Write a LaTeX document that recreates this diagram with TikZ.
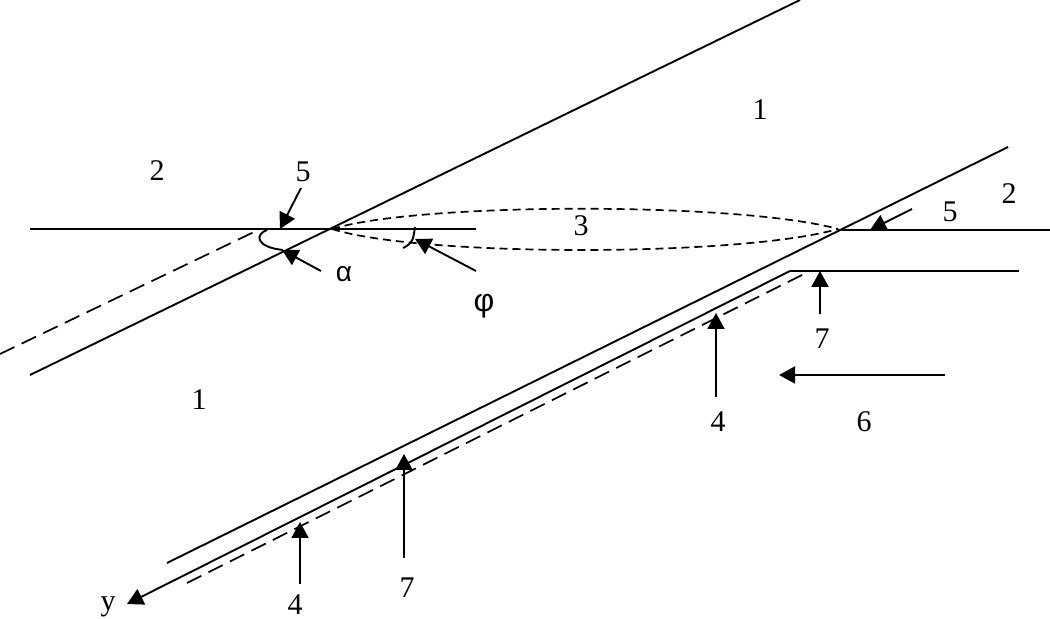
\documentclass[tikz,border=0pt]{standalone}
\usepackage{fontspec}
\setmainfont{Liberation Serif}
\newfontfamily\greekfont{Liberation Sans}
\usetikzlibrary{arrows.meta}
\tikzset{
>={Triangle[length=8pt,width=8.5pt]}, % solid arrow heads
wall/.style={line width=0.95pt}, % sets the properties for each solid line
hidden/.style={line width=0.85pt, dash pattern=on 8pt off 4pt}, % long dashes of the offset lines
lens/.style={line width=0.85pt, dash pattern=on 4pt off 2.5pt}, % short dashes of the cavity
tag/.style={font=\fontsize{15}{18}\selectfont, inner sep=0pt}, % sets the properties for each label
}

\begin{document}
\begin{tikzpicture}[x=0.5pt, y=-0.5pt]
  \useasboundingbox (0,0) rectangle (1050,619);

  % Points
  \coordinate (ua) at (30,375);
  \coordinate (ub) at (800,0);
  \coordinate (la) at (167,563);
  \coordinate (lb) at (1008,147);
  \coordinate (ha) at (30,229);
  \coordinate (hb) at (476,229);
  \coordinate (ra) at (838,230);
  \coordinate (rb) at (1050,230);
  \coordinate (ya) at (127,604);
  \coordinate (yb) at (790,271);
  \coordinate (yc) at (1019,271);
  \coordinate (da) at (187,583);
  \coordinate (db) at (810,271);
  \coordinate (dc) at (0,354);
  \coordinate (dd) at (254,232);
  \coordinate (ca) at (332,229);
  \coordinate (cb) at (838,229);
  \coordinate (fa) at (267,230);
  \coordinate (fb) at (283,250);
  \coordinate (pa) at (415,227);
  \coordinate (pb) at (403,248);

  % Labels
  \node[tag] (n1r) at (760,110) {1};
  \node[tag] (n1l) at (199,400) {1};
  \node[tag] (n2l) at (157,171) {2};
  \node[tag] (n2r) at (1009,194) {2};
  \node[tag] (n3) at (581,226) {3};
  \node[tag] (n4l) at (295,605) {4};
  \node[tag] (n4r) at (718,422) {4};
  \node[tag] (n5l) at (303,172) {5};
  \node[tag] (n5r) at (950,212) {5};
  \node[tag] (n6) at (864,422) {6};
  \node[tag] (n7l) at (407,588) {7};
  \node[tag] (n7r) at (822,339) {7};
  \node[tag] (ny) at (108,607) {y};
  \node[tag, font=\fontsize{14}{18}\greekfont] (nalpha) at (344,274) {α};
  \node[tag, font=\fontsize{16}{18}\greekfont] (nphi) at (484,306) {φ};

  % Arrow ends
  \coordinate (a5l) at (301,188);
  \coordinate (t5l) at (280,229);
  \coordinate (aa) at (321,271);
  \coordinate (ta) at (282,250);
  \coordinate (ap) at (476,271);
  \coordinate (tp) at (415,239);
  \coordinate (a5r) at (912,209);
  \coordinate (t5r) at (870,230);
  \coordinate (a4r) at (716,397);
  \coordinate (t4r) at (716,313);
  \coordinate (a7r) at (820,314);
  \coordinate (t7r) at (820,271);
  \coordinate (a6) at (945,375);
  \coordinate (t6) at (779,375);
  \coordinate (a7l) at (404,558);
  \coordinate (t7l) at (404,454);
  \coordinate (a4l) at (300,584);
  \coordinate (t4l) at (300,522);

  % Lines
  \draw[wall] (ua) -- (ub);
  \draw[wall] (la) -- (lb);
  \draw[wall] (ha) -- (hb);
  \draw[wall] (ra) -- (rb);
  \draw[wall, ->] (yb) -- (ya);
  \draw[wall] (yb) -- (yc);
  \draw[hidden] (da) -- (db);
  \draw[hidden] (dc) -- (dd);

  % Cavity
  \draw[lens] (ca) .. controls (420,202) and (740,202) .. (cb);
  \draw[lens] (ca) .. controls (420,257) and (740,257) .. (cb);

  % Angles
  \draw[wall] (fa) .. controls (255,234) and (255,247) .. (fb);
  \draw[wall] (pa) .. controls (413,240) and (413,243) .. (pb);

  % Arrows
  \path[->, wall]
    (a5l) edge (t5l)
    (aa) edge (ta)
    (ap) edge (tp)
    (a5r) edge (t5r)
    (a4r) edge (t4r)
    (a7r) edge (t7r)
    (a6) edge (t6)
    (a7l) edge (t7l)
    (a4l) edge (t4l);
\end{tikzpicture}
\end{document}
